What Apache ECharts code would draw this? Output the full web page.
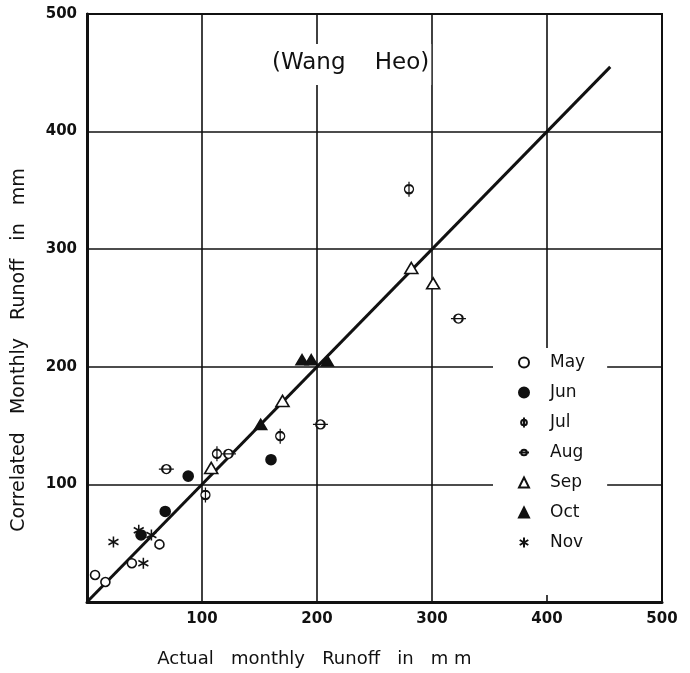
<!DOCTYPE html>
<html>
<head>
<meta charset="utf-8">
<script src="https://cdn.jsdelivr.net/npm/echarts@6/dist/echarts.min.js"></script>
<style>
  html, body { margin: 0; padding: 0; background: #fff; }
  #chart { width: 690px; height: 673px; }
</style>
</head>
<body>
<div id="chart"></div>
<script>
// Actual vs correlated monthly runoff (mm), grouped by month: [actual, correlated]
const mayPts = [[7, 23], [16, 17], [39, 33], [63, 49]];
const junPts = [[47, 57], [68, 77], [88, 107], [160, 121]];
const julPts = [[103, 91], [113, 126], [168, 141], [280, 351]];
const augPts = [[69, 113], [123, 126], [203, 151], [323, 241]];
const sepPts = [[108, 114], [170, 171], [282, 284], [301, 271]];
const octPts = [[151, 151], [187, 206], [195, 206], [209, 205]];
const novPts = [[23, 51], [45, 61], [49, 33], [56, 57]];

// 1:1 reference line
const equalLine = [[0, 0], [455, 455]];

const axisTicks = [100, 200, 300, 400, 500];
const monthNames = ['May', 'Jun', 'Jul', 'Aug', 'Sep', 'Oct', 'Nov'];

const ink = '#111';
const font = 'DejaVu Sans';

const symJul = 'path://M0,-7 L0,7 M4,0 A4,4 0 1,1 -4,0 A4,4 0 1,1 4,0 Z';
const symAug = 'path://M-7,0 L7,0 M4,0 A4,4 0 1,1 -4,0 A4,4 0 1,1 4,0 Z';
const symStar = 'path://M0,-5 L0,5 M-4.3,-2.5 L4.3,2.5 M-4.3,2.5 L4.3,-2.5';

function pointSeries(name, data, symbol, size, filled) {
  return {
    name: name,
    type: 'scatter',
    data: data,
    symbol: symbol,
    symbolSize: size,
    z: 5,
    itemStyle: {
      color: filled ? ink : '#fff',
      borderColor: ink,
      borderWidth: 1.6,
      opacity: 1
    }
  };
}

const chart = echarts.init(document.getElementById('chart'), null, { renderer: 'canvas' });

chart.setOption({
  animation: false,
  backgroundColor: '#fff',
  title: {
    text: '(Wang    Heo)',
    left: 270,
    top: 44,
    padding: [8, 2, 10, 2],
    backgroundColor: '#fff',
    textStyle: { fontFamily: font, fontSize: 23, fontWeight: 'normal', color: ink }
  },
  grid: {
    left: 87, right: 28, top: 14, bottom: 69,
    show: true, borderColor: ink, borderWidth: 2, backgroundColor: 'transparent'
  },
  legend: {
    orient: 'vertical',
    left: 493,
    top: 348,
    width: 115,
    padding: [6, 22, 44, 25],
    backgroundColor: '#fff',
    itemWidth: 10,
    itemHeight: 10,
    itemGap: 13,
    data: monthNames,
    textStyle: { fontFamily: font, fontSize: 17, color: ink, padding: [0, 0, 0, 16] }
  },
  xAxis: {
    type: 'value',
    min: 0, max: 500, interval: 100,
    name: 'Actual   monthly   Runoff   in   m m',
    nameLocation: 'middle',
    nameGap: 48,
    nameTextStyle: { fontFamily: font, fontSize: 18, color: ink, padding: [0, 0, 0, -120] },
    axisLine: { show: true, onZero: false, lineStyle: { color: ink, width: 3 } },
    axisTick: { show: false },
    splitLine: { show: true, lineStyle: { color: ink, width: 1.6 } },
    axisLabel: {
      margin: 10,
      fontFamily: font, fontSize: 15, fontWeight: 'bold', color: ink,
      formatter: v => axisTicks.includes(v) ? String(v) : ''
    }
  },
  yAxis: {
    type: 'value',
    min: 0, max: 500, interval: 100,
    name: 'Correlated   Monthly   Runoff   in   mm',
    nameLocation: 'middle',
    nameGap: 58,
    nameTextStyle: { fontFamily: font, fontSize: 19, color: ink, padding: [0, 84, 0, 0] },
    axisLine: { show: true, onZero: false, lineStyle: { color: ink, width: 3 } },
    axisTick: { show: false },
    splitLine: { show: true, lineStyle: { color: ink, width: 1.6 } },
    axisLabel: {
      margin: 10,
      fontFamily: font, fontSize: 15, fontWeight: 'bold', color: ink,
      formatter: v => axisTicks.includes(v) ? String(v) : ''
    }
  },
  series: [
    {
      name: 'equal',
      type: 'line',
      data: equalLine,
      symbol: 'none',
      silent: true,
      z: 3,
      lineStyle: { color: ink, width: 3 }
    },
    pointSeries('May', mayPts, 'circle', 9, false),
    pointSeries('Jun', junPts, 'circle', 10, true),
    pointSeries('Jul', julPts, symJul, [9, 15], false),
    pointSeries('Aug', augPts, symAug, [15, 9], false),
    pointSeries('Sep', sepPts, 'triangle', [13, 11], false),
    pointSeries('Oct', octPts, 'triangle', [12, 10], true),
    pointSeries('Nov', novPts, symStar, [10, 11], false)
  ]
});
</script>
</body>
</html>
